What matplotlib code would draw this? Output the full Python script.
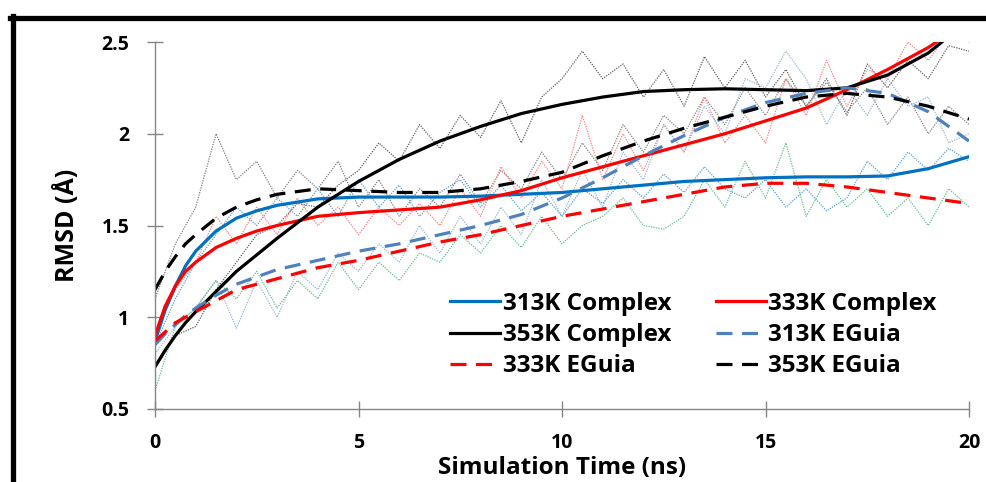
import matplotlib.pyplot as plt
import matplotlib.lines as mlines
import numpy as np

plt.rcParams['font.family'] = ['Open Sans', 'DejaVu Sans']
plt.rcParams['font.weight'] = 'bold'

# raw trajectories (read every 0.5 ns)
t_raw = [i * 0.5 for i in range(41)]
raw_353c = [0.72, 0.9, 0.95, 1.15, 1.3, 1.45, 1.5, 1.62, 1.6, 1.72, 1.8, 1.95, 1.85, 2.05, 1.92, 2.1,
            1.98, 2.18, 1.95, 2.2, 2.3, 2.45, 2.3, 2.38, 2.2, 2.35, 2.15, 2.42, 2.25, 2.4, 2.2, 2.35,
            2.15, 2.3, 2.1, 2.38, 2.25, 2.4, 2.3, 2.48, 2.45]
raw_353e = [1.1, 1.4, 1.6, 2.0, 1.75, 1.85, 1.65, 1.8, 1.7, 1.85, 1.6, 1.75, 1.55, 1.7, 1.6, 1.78,
            1.62, 1.8, 1.7, 1.9, 1.75, 1.95, 1.8, 2.05, 1.9, 2.1, 2.0, 2.2, 2.05, 2.25, 2.1, 2.3,
            2.15, 2.28, 2.12, 2.25, 2.05, 2.2, 2.0, 2.15, 2.05]
raw_333c = [0.9, 1.15, 1.3, 1.55, 1.4, 1.6, 1.45, 1.65, 1.5, 1.6, 1.45, 1.6, 1.5, 1.62, 1.5, 1.7,
            1.55, 1.82, 1.65, 1.85, 1.7, 2.1, 1.75, 2.0, 1.8, 2.05, 1.9, 2.2, 1.95, 2.1, 1.95, 2.3,
            2.1, 2.4, 2.15, 2.35, 2.3, 2.5, 2.4, 2.55, 2.5]
raw_313c = [0.85, 1.1, 1.3, 1.45, 1.6, 1.5, 1.65, 1.55, 1.7, 1.55, 1.75, 1.6, 1.72, 1.55, 1.68, 1.75,
            1.6, 1.72, 1.58, 1.68, 1.55, 1.7, 1.62, 1.75, 1.65, 1.78, 1.68, 1.82, 1.7, 1.65, 1.75, 1.6,
            1.7, 1.58, 1.65, 1.85, 1.75, 1.9, 1.8, 1.92, 1.85]
raw_313e = [0.8, 0.95, 1.05, 1.2, 0.94, 1.2, 1.0, 1.25, 1.15, 1.35, 1.25, 1.4, 1.3, 1.5, 1.35, 1.55,
            1.4, 1.6, 1.45, 1.75, 1.55, 1.8, 1.6, 1.9, 1.75, 2.05, 1.9, 2.15, 2.0, 2.3, 2.25, 2.45,
            2.3, 2.05, 2.25, 2.1, 2.3, 2.15, 2.2, 1.95, 2.0]
raw_333e = [0.6, 0.95, 1.05, 1.2, 1.1, 1.25, 1.05, 1.2, 1.1, 1.3, 1.15, 1.3, 1.2, 1.35, 1.3, 1.45,
            1.35, 1.5, 1.38, 1.55, 1.4, 1.5, 1.55, 1.65, 1.5, 1.48, 1.55, 1.75, 1.6, 1.85, 1.65, 1.95,
            1.55, 1.75, 1.6, 1.7, 1.55, 1.65, 1.5, 1.7, 1.6]

# trend lines
t_fit = [0, 0.25, 0.5, 0.75, 1, 1.5, 2, 2.5, 3, 4, 5, 6, 7, 8, 9, 10, 11, 12, 13, 14, 15, 16, 17, 18, 19, 20]
fit_313c = [0.87, 1.04, 1.17, 1.28, 1.36, 1.47, 1.54, 1.58, 1.61, 1.645, 1.655, 1.655, 1.655, 1.66, 1.67,
            1.68, 1.70, 1.72, 1.74, 1.75, 1.76, 1.765, 1.765, 1.77, 1.81, 1.875]
fit_333c = [0.9, 1.06, 1.17, 1.25, 1.3, 1.38, 1.43, 1.47, 1.50, 1.55, 1.57, 1.585, 1.60, 1.64, 1.69,
            1.76, 1.82, 1.88, 1.94, 2.00, 2.07, 2.14, 2.24, 2.35, 2.47, 2.62]
fit_353c = [0.73, 0.82, 0.9, 0.97, 1.03, 1.14, 1.25, 1.34, 1.43, 1.6, 1.74, 1.86, 1.96, 2.04, 2.11,
            2.16, 2.2, 2.23, 2.24, 2.245, 2.24, 2.235, 2.25, 2.32, 2.44, 2.62]
fit_313e = [0.85, 0.91, 0.96, 1.01, 1.05, 1.12, 1.18, 1.22, 1.26, 1.31, 1.36, 1.40, 1.45, 1.50, 1.56,
            1.65, 1.76, 1.88, 1.99, 2.09, 2.17, 2.22, 2.25, 2.22, 2.12, 1.96]
fit_333e = [0.87, 0.92, 0.97, 1.0, 1.03, 1.09, 1.15, 1.18, 1.21, 1.27, 1.31, 1.36, 1.41, 1.45, 1.50,
            1.55, 1.59, 1.63, 1.67, 1.71, 1.73, 1.73, 1.71, 1.68, 1.65, 1.62]
fit_353e = [1.15, 1.25, 1.33, 1.4, 1.45, 1.54, 1.60, 1.64, 1.67, 1.70, 1.69, 1.68, 1.68, 1.70, 1.74,
            1.79, 1.88, 1.96, 2.03, 2.09, 2.15, 2.20, 2.22, 2.20, 2.15, 2.08]

fig = plt.figure(figsize=(9.86, 4.82), dpi=100)
ax = fig.add_axes([155 / 986, 1 - 409 / 482, 814 / 986, 367 / 482])

dot = (0, (1, 1))
ax.plot(t_raw, raw_353c, color='#606060', lw=0.9, ls=dot)
ax.plot(t_raw, raw_353e, color='#808080', lw=0.9, ls=dot)
ax.plot(t_raw, raw_333c, color='#ff8080', lw=0.9, ls=dot)
ax.plot(t_raw, raw_313c, color='#5b9bd5', lw=0.9, ls=dot)
ax.plot(t_raw, raw_313e, color='#95b3d7', lw=0.9, ls=dot)
ax.plot(t_raw, raw_333e, color='#66bb88', lw=0.9, ls=dot)

lw = 2.3
dash = (5, 3)
h1, = ax.plot(t_fit, fit_313c, color='#0070c0', lw=lw, label='313K Complex')
h2, = ax.plot(t_fit, fit_333c, color='#ff0000', lw=lw, label='333K Complex')
h3, = ax.plot(t_fit, fit_353c, color='black', lw=lw, label='353K Complex')
h4, = ax.plot(t_fit, fit_313e, color='#4f81bd', lw=lw, dashes=dash, label='313K EGuia')
h5, = ax.plot(t_fit, fit_333e, color='#ff0000', lw=lw, dashes=dash, label='333K EGuia')
h6, = ax.plot(t_fit, fit_353e, color='black', lw=lw, dashes=dash, label='353K EGuia')

ax.set_xlim(0, 20)
ax.set_ylim(0.5, 2.5)
ax.set_xticks([0, 5, 10, 15, 20])
ax.set_yticks([0.5, 1, 1.5, 2, 2.5])
ax.set_yticklabels(['0.5', '1', '1.5', '2', '2.5'])
for s in ['top', 'right']:
    ax.spines[s].set_visible(False)
for s in ['left', 'bottom']:
    ax.spines[s].set_color('#868686')
    ax.spines[s].set_linewidth(1)
ax.tick_params(axis='both', direction='inout', length=11, color='#868686', width=1,
               labelsize=14)
ax.tick_params(axis='y', pad=13)
ax.tick_params(axis='x', pad=12)

ax.set_xlabel('Simulation Time (ns)', fontsize=17.5, fontweight='bold', labelpad=2)
ax.set_ylabel('RMSD (Å)', fontsize=18, fontweight='bold', labelpad=15)

ax.legend(handles=[h1, h3, h5, h2, h4, h6], ncol=2, frameon=False, fontsize=17.5,
          loc='upper left', bbox_to_anchor=(0.351, 0.346), handlelength=2.05,
          handletextpad=0.1, columnspacing=1.85, labelspacing=0.3, borderaxespad=0)

# black frame of the original figure
fig.add_artist(mlines.Line2D([10 / 986, 1], [1 - 17.5 / 482, 1 - 17.5 / 482], color='black', lw=3.8))
fig.add_artist(mlines.Line2D([12.5 / 986, 12.5 / 986], [0, 1 - 15.5 / 482], color='black', lw=3.8))

fig.savefig('out.png', dpi=100)
